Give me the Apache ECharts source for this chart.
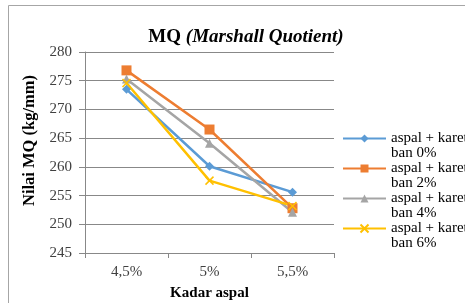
<!DOCTYPE html>
<html>
<head>
    <meta charset="UTF-8">
    <title>MQ (Marshall Quotient)</title>
    <script src="https://cdn.jsdelivr.net/npm/echarts@6/dist/echarts.min.js"></script>
    <style>
        html, body { margin: 0; padding: 0; background: #fff; }
        #chart { width: 465px; height: 303px; }
    </style>
</head>
<body>
<div id="chart"></div>
<script>
    var kadar = ['4,5%', '5%', '5,5%'];
    var seriesNames = ['aspal + karet ban 0%', 'aspal + karet ban 2%', 'aspal + karet ban 4%', 'aspal + karet ban 6%'];
    var ban0 = [273.5, 260.1, 255.6];
    var ban2 = [276.8, 266.5, 252.8];
    var ban4 = [275.3, 264.1, 252.1];
    var ban6 = [274.6, 257.6, 253.2];
    var colors = ['#5B9BD5', '#ED7D31', '#A5A5A5', '#FFC000'];

    var serif = '"Liberation Serif", "DejaVu Serif", serif';
    var chart = echarts.init(document.getElementById('chart'), null, {renderer: 'canvas'});

    function lineSeries(name, data, color, symbol, size) {
        return {
            name: name,
            type: 'line',
            data: data,
            symbol: symbol,
            symbolSize: size,
            showSymbol: true,
            lineStyle: {color: color, width: 2.5},
            itemStyle: {color: color},
            emphasis: {disabled: true}
        };
    }

    var series = [
        lineSeries(seriesNames[0], ban0, colors[0], 'diamond', 9),
        lineSeries(seriesNames[1], ban2, colors[1], 'rect', 10),
        lineSeries(seriesNames[2], ban4, colors[2], 'triangle', 9),
        lineSeries(seriesNames[3], ban6, colors[3], 'path://M0,0L10,10M10,0L0,10', 8)
    ];
    // the cross marker only shows with a stroke
    series[3].itemStyle = {color: colors[3], borderColor: colors[3], borderWidth: 1.5};

    chart.setOption({
        animation: false,
        color: colors,
        graphic: [{
            type: 'rect',
            shape: {x: 8.5, y: 5.5, width: 470, height: 310},
            style: {fill: 'none', stroke: '#a6a6a6', lineWidth: 1}
        }],
        title: {
            text: '{b|MQ }{i|(Marshall Quotient)}',
            left: 241,
            textAlign: 'center',
            top: 23,
            textStyle: {
                rich: {
                    b: {fontFamily: serif, fontSize: 19, fontWeight: 'bold', color: '#000'},
                    i: {fontFamily: serif, fontSize: 19, fontWeight: 'bold', fontStyle: 'italic', color: '#000'}
                }
            }
        },
        grid: {left: 85, right: 131, top: 52, bottom: 50, containLabel: false, outerBoundsMode: 'none'},
        legend: {
            orient: 'vertical',
            left: 337,
            top: 111,
            itemWidth: 43,
            itemHeight: 10,
            itemGap: -15,
            data: seriesNames,
            formatter: function (name) {
                return ' \n' + name.replace(' ban', '\nban');
            },
            textStyle: {fontFamily: serif, fontSize: 15, color: '#000', lineHeight: 15}
        },
        xAxis: {
            type: 'category',
            data: kadar,
            boundaryGap: true,
            name: 'Kadar aspal',
            nameLocation: 'middle',
            nameGap: 33,
            nameTextStyle: {fontFamily: serif, fontSize: 15, fontWeight: 'bold', color: '#000'},
            axisLine: {lineStyle: {color: '#888', width: 1}},
            axisTick: {show: true, alignWithLabel: false, length: 5, lineStyle: {color: '#888'}},
            axisLabel: {fontFamily: serif, fontSize: 15, color: '#404040', margin: 12}
        },
        yAxis: {
            type: 'value',
            min: 245,
            max: 280,
            interval: 5,
            name: 'Nilai MQ (kg/mm)',
            nameLocation: 'middle',
            nameGap: 46,
            nameRotate: 90,
            nameTextStyle: {fontFamily: serif, fontSize: 16.5, fontWeight: 'bold', color: '#000', padding: [0, 0, 0, 24]},
            axisLine: {show: true, lineStyle: {color: '#888', width: 1}},
            axisTick: {show: true, length: 6, lineStyle: {color: '#888'}},
            splitLine: {lineStyle: {color: '#888', width: 1}},
            axisLabel: {fontFamily: serif, fontSize: 15, color: '#404040', margin: 13}
        },
        series: series
    });
</script>
</body>
</html>
